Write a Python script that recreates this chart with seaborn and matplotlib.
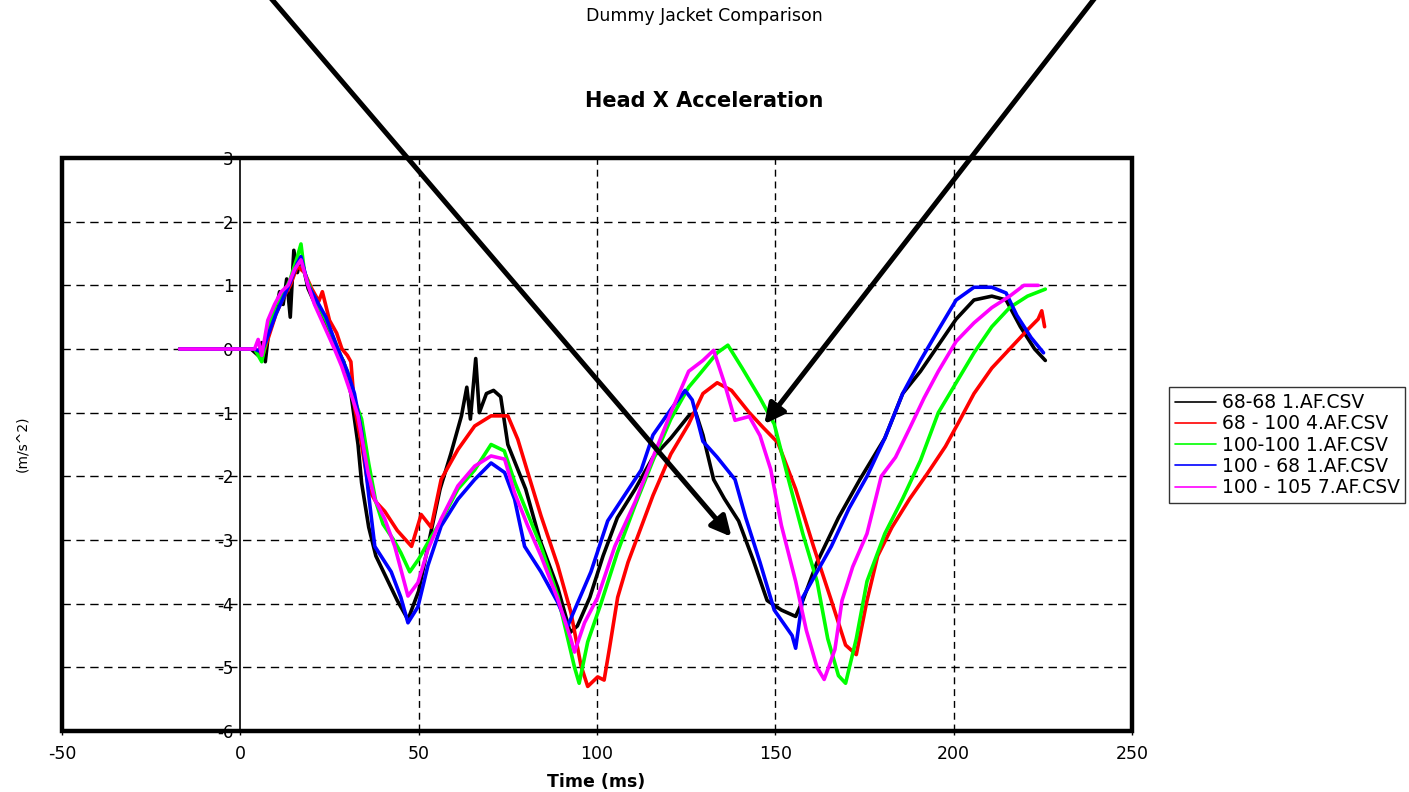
import pandas as pd
import matplotlib
matplotlib.use('Agg')
import matplotlib.pyplot as plt
from matplotlib.patches import Rectangle
import seaborn as sns

# -----------------------------
# Data (time in ms, acceleration)
series_names = ['68-68 1.AF.CSV', '68 - 100 4.AF.CSV', '100-100 1.AF.CSV',
                '100 - 68 1.AF.CSV', '100 - 105 7.AF.CSV']
series_colors = ['#000000', '#ff0000', '#00ff00', '#0000ff', '#ff00ff']

black_t = [-17, 3, 5, 6, 7, 8, 10, 11, 12, 13, 14, 15, 16, 17, 19, 21, 24, 27, 29, 31, 33, 34, 36, 38,
           41, 44, 47, 48, 50, 52.6, 56, 59, 62, 63.5, 64.5, 66, 67, 69, 71, 73, 75, 80, 84, 89, 92.5,
           94.5, 98, 101.7, 105.7, 110.7, 115.7, 120.7, 125.7, 127.7, 129.7, 132.7, 135.7, 139.7,
           143.7, 147.7, 151.7, 155.7, 157.7, 161.7, 167.7, 173.7, 180.7, 185.7, 190.7, 195.7,
           200.7, 205.7, 210.7, 214.7, 218.7, 222.7, 225.7]
black_v = [0, 0, -0.1, 0.1, -0.2, 0.3, 0.6, 0.9, 0.7, 1.1, 0.5, 1.55, 1.2, 1.45, 0.95, 0.7, 0.35, 0.0,
           -0.2, -0.7, -1.5, -2.1, -2.8, -3.25, -3.6, -3.95, -4.25, -4.1, -3.8, -3.1, -2.2, -1.65,
           -1.05, -0.6, -1.1, -0.15, -1.0, -0.7, -0.65, -0.75, -1.5, -2.2, -3.0, -3.75, -4.45, -4.35,
           -3.9, -3.25, -2.65, -2.2, -1.7, -1.4, -1.05, -1.0, -1.35, -2.05, -2.35, -2.7, -3.3, -3.95,
           -4.1, -4.2, -3.95, -3.35, -2.65, -2.05, -1.4, -0.7, -0.35, 0.06, 0.47, 0.77, 0.83, 0.77,
           0.35, 0.0, -0.18]

red_t = [-17, 4, 6, 8, 10, 12, 14, 16, 18, 20, 22, 23, 25, 27, 28.5, 30, 31, 32, 34, 36, 38, 40.5, 44,
         48, 50.7, 53.5, 56.3, 61, 65.7, 70.3, 75, 77.8, 80.6, 84.3, 89, 92.7, 95.5, 97.4, 100.2, 102,
         103.5, 105.8, 108.7, 111.7, 115.7, 120.7, 125.7, 129.7, 133.7, 137.7, 142.7, 146.7, 150.7,
         155.7, 160.7, 165.7, 169.7, 172.7, 175.7, 178.7, 182.7, 187.7, 192.7, 197.7, 201.7, 205.7,
         210.7, 215.7, 220.7, 223.7, 224.7, 225.5]
red_v = [0, 0, -0.15, 0.2, 0.55, 0.8, 1.0, 1.3, 1.2, 0.95, 0.75, 0.9, 0.45, 0.25, 0.0, -0.1, -0.2,
         -0.9, -1.5, -2.2, -2.4, -2.55, -2.85, -3.1, -2.6, -2.8, -2.05, -1.58, -1.21, -1.05, -1.05,
         -1.42, -1.94, -2.62, -3.4, -4.14, -4.97, -5.3, -5.15, -5.2, -4.7, -3.9, -3.35, -2.9, -2.3,
         -1.65, -1.18, -0.7, -0.53, -0.65, -1.0, -1.24, -1.47, -2.2, -3.1, -3.95, -4.65, -4.8, -3.95,
         -3.25, -2.8, -2.35, -1.95, -1.53, -1.12, -0.7, -0.3, 0.0, 0.3, 0.47, 0.6, 0.35]

green_t = [-17, 4, 6, 8, 10, 12, 14, 16, 17, 18, 20, 24, 27, 30, 32, 34, 36, 38, 40, 43, 45, 47.5, 50,
           53, 56.3, 61, 65.7, 70.3, 74, 77, 79.7, 84.3, 89, 93.7, 95, 97.4, 101.1, 105.7, 110.7,
           115.7, 120.7, 125.7, 128.7, 133.7, 136.7, 140.7, 145.7, 149.7, 153.7, 157.7, 161.7, 164.7,
           167.7, 169.7, 172.7, 175.7, 180.7, 185.7, 190.7, 195.7, 200.7, 205.7, 210.7, 215.7, 220.7,
           225.7]
green_v = [0, 0, -0.2, 0.35, 0.7, 0.85, 1.1, 1.45, 1.65, 1.2, 0.9, 0.45, 0.05, -0.35, -0.8, -1.1, -1.8,
           -2.4, -2.75, -3.0, -3.2, -3.5, -3.3, -3.0, -2.7, -2.2, -1.9, -1.5, -1.6, -2.1, -2.47, -3.1,
           -3.88, -5.0, -5.25, -4.6, -4.0, -3.2, -2.45, -1.75, -1.1, -0.6, -0.4, -0.06, 0.06, -0.3,
           -0.77, -1.18, -2.05, -2.9, -3.65, -4.55, -5.13, -5.25, -4.55, -3.65, -2.9, -2.35, -1.75,
           -1.0, -0.53, -0.06, 0.35, 0.65, 0.83, 0.94]

blue_t = [-17, 4, 6, 8, 10, 12, 14, 16, 17, 19, 21, 24, 27, 30, 32, 34, 36, 37.7, 40, 42.3, 45, 47,
          49.8, 52.6, 56.3, 61, 65.7, 70.3, 74.1, 76.9, 79.7, 84.3, 89, 91.8, 93.7, 98.3, 103, 107.7,
          112.4, 115.7, 120.7, 124.7, 126.7, 129.7, 133.7, 138.7, 141.7, 145.7, 149.7, 154.7, 155.7,
          157.7, 161.7, 165.7, 170.7, 175.7, 180.7, 185.7, 190.7, 195.7, 200.7, 205.7, 210.7, 214.7,
          217.7, 221.7, 225.2]
blue_v = [0, 0, -0.05, 0.25, 0.55, 0.8, 1.05, 1.35, 1.45, 1.0, 0.8, 0.5, 0.05, -0.35, -0.7, -1.3,
          -2.3, -3.1, -3.3, -3.5, -3.9, -4.3, -4.05, -3.4, -2.78, -2.36, -2.05, -1.79, -1.94, -2.36,
          -3.1, -3.5, -3.98, -4.35, -4.1, -3.5, -2.7, -2.3, -1.9, -1.35, -0.95, -0.65, -0.8, -1.45,
          -1.7, -2.05, -2.65, -3.35, -4.1, -4.5, -4.7, -3.9, -3.5, -3.1, -2.5, -2.0, -1.4, -0.7, -0.18,
          0.3, 0.77, 0.97, 0.97, 0.88, 0.53, 0.18, -0.06]

magenta_t = [-17, 4, 5, 6, 7.7, 9.6, 11.5, 13.4, 15.2, 17, 19, 20.8, 23.6, 26.4, 28.4, 31, 33, 35.8,
             37.7, 40.5, 43.3, 47, 49.8, 52.6, 56.3, 61, 65.7, 70.3, 74.1, 76.9, 80.6, 84.3, 89, 92.7,
             93.7, 96.5, 100.2, 105, 110.7, 115.7, 120.7, 125.7, 129.7, 132.7, 135.7, 138.7, 142.7,
             145.7, 148.7, 151.7, 155.7, 158.7, 161.7, 163.7, 166.7, 168.7, 171.7, 175.7, 179.7, 183.7,
             187.7, 191.7, 195.7, 200.7, 205.7, 210.7, 215.7, 219.7, 223.7]
magenta_v = [0, 0, 0.15, -0.1, 0.45, 0.7, 0.9, 1.0, 1.25, 1.4, 1.0, 0.7, 0.35, 0.0, -0.27, -0.7, -1.05,
             -1.94, -2.36, -2.67, -3.1, -3.88, -3.67, -3.15, -2.67, -2.15, -1.84, -1.68, -1.73, -2.26,
             -2.78, -3.25, -3.93, -4.56, -4.76, -4.3, -3.9, -3.1, -2.4, -1.7, -1.0, -0.35, -0.18, -0.02,
             -0.53, -1.12, -1.06, -1.36, -1.89, -2.77, -3.65, -4.42, -5.0, -5.19, -4.72, -3.95, -3.42,
             -2.9, -2.0, -1.7, -1.24, -0.77, -0.35, 0.12, 0.41, 0.65, 0.83, 1.0, 1.0]

x_ticks = [-50, 0, 50, 100, 150, 200, 250]
y_ticks = [-6, -5, -4, -3, -2, -1, 0, 1, 2, 3]

# -----------------------------
# Build a long-form table for seaborn
frames = []
for name, t, v in zip(series_names,
                      [black_t, red_t, green_t, blue_t, magenta_t],
                      [black_v, red_v, green_v, blue_v, magenta_v]):
    frames.append(pd.DataFrame({'Time': t, 'Accel': v, 'Series': name}))
df = pd.concat(frames, ignore_index=True)

sns.set_style('white')
plt.rcParams['font.family'] = ['DejaVu Sans']
plt.rcParams['axes.unicode_minus'] = False
plt.rcParams['text.color'] = 'black'
plt.rcParams['xtick.color'] = 'black'
plt.rcParams['ytick.color'] = 'black'
plt.rcParams['axes.labelcolor'] = 'black'

fig = plt.figure(figsize=(14.09, 7.92), dpi=100)
ax = fig.add_axes([0.044, 0.077, 0.7594, 0.7235])

sns.lineplot(data=df, x='Time', y='Accel', hue='Series', hue_order=series_names,
             palette=dict(zip(series_names, series_colors)), sort=False, estimator=None,
             linewidth=2.6, ax=ax, legend=True)

ax.set_xlim(-50, 250)
ax.set_ylim(-6, 3)
ax.set_xticks(x_ticks)
ax.set_yticks(y_ticks)
ax.set_xlabel('')
ax.set_ylabel('')

# dashed grid, y axis line sits at time 0
for x in [50, 100, 150, 200]:
    ax.axvline(x, color='black', lw=1.0, ls=(0, (5, 3.5)), zorder=1)
for y in [-5, -4, -3, -2, -1, 0, 1, 2]:
    ax.axhline(y, color='black', lw=1.0, ls=(0, (6, 4)), zorder=1)

for side in ['top', 'right', 'bottom']:
    ax.spines[side].set_visible(False)
ax.spines['left'].set_position(('data', 0))
ax.spines['left'].set_linewidth(1.2)
ax.spines['left'].set_color('black')
ax.spines['left'].set_zorder(1.5)

ax.tick_params(axis='y', length=0, pad=5, labelsize=12, labelcolor='black')
ax.tick_params(axis='x', length=3, width=1, pad=7, labelsize=12.5, direction='out', bottom=True,
               labelcolor='black')

# thick outer frame
ax.add_patch(Rectangle((0, 0), 1, 1, transform=ax.transAxes, fill=False,
                       edgecolor='black', lw=3.2, clip_on=False, zorder=5))

# the two hand-drawn arrows
arrow_style = dict(arrowstyle='-|>', color='black', lw=3.6, mutation_scale=30,
                   shrinkA=0, shrinkB=0)
ax.annotate('', xy=(137.7, -2.95), xytext=(7.2, 5.6), arrowprops=arrow_style,
            annotation_clip=False, zorder=6)
ax.annotate('', xy=(146.9, -1.18), xytext=(240.8, 5.6), arrowprops=arrow_style,
            annotation_clip=False, zorder=6)

# legend outside the plot on the right
handles, labels = ax.get_legend_handles_labels()
ax.get_legend().remove()
leg = fig.legend(handles, labels, loc='center', bbox_to_anchor=(0.9135, 0.438),
                 fontsize=13.5, frameon=True, fancybox=False, edgecolor='black',
                 handlelength=2.2, handletextpad=0.3, borderpad=0.3, labelspacing=0.12,
                 borderaxespad=0, labelcolor='black')
leg.get_frame().set_linewidth(1.0)
for line in leg.get_lines():
    line.set_linewidth(1.2)

fig.text(0.5, 1 - 16 / 792, 'Dummy Jacket Comparison', ha='center', va='center', fontsize=12.5,
         color='black')
fig.text(0.5, 1 - 101 / 792, 'Head X Acceleration', ha='center', va='center',
         fontsize=15, fontweight='bold', color='black')
fig.text(596 / 1409, 1 - 782 / 792, 'Time (ms)', ha='center', va='center',
         fontsize=12.5, fontweight='bold', color='black')
fig.text(22 / 1409, 1 - 444 / 792, '(m/s^2)', ha='center', va='center', rotation=90,
         fontsize=10, color='black')

fig.savefig('out.png', dpi=100)
plt.close()
